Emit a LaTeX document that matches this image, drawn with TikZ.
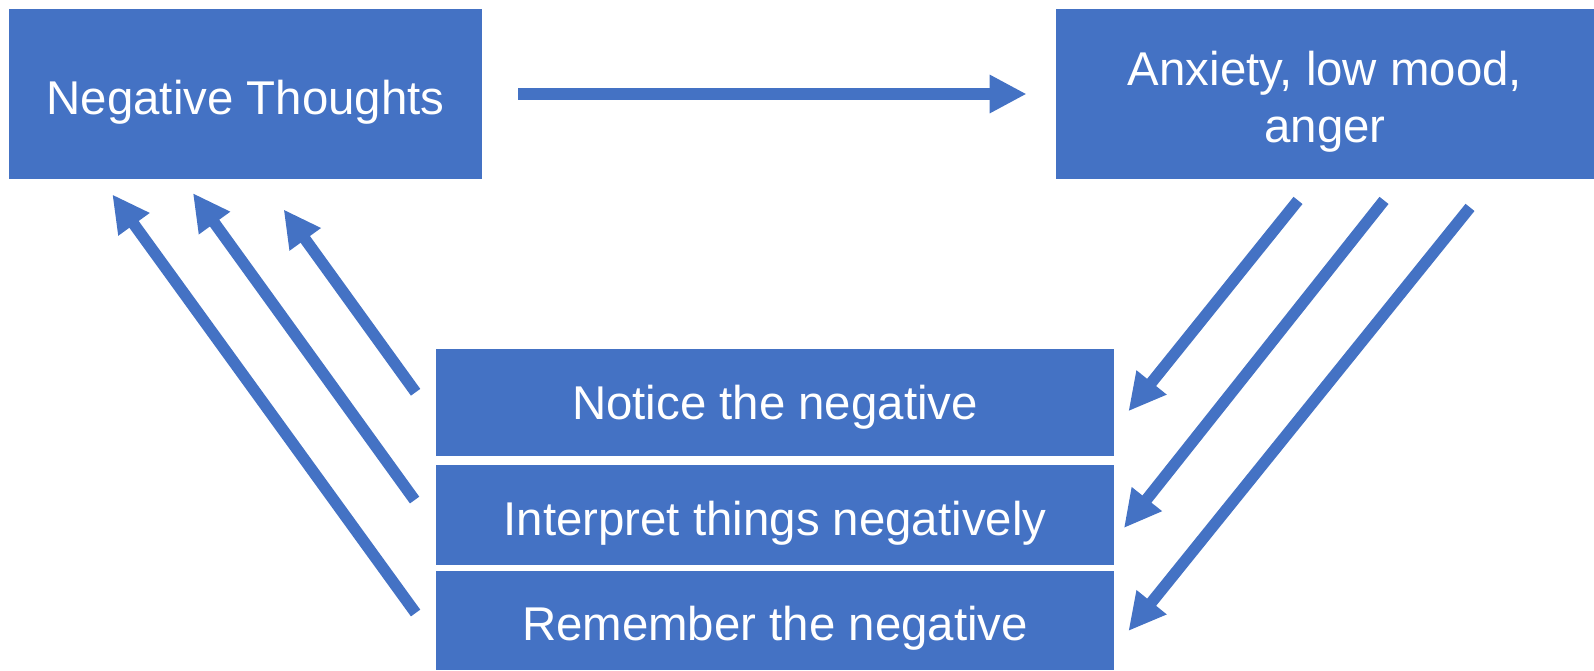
\documentclass[tikz,border=0pt]{standalone}
\usepackage{fontspec}
\setmainfont{Liberation Sans}
\usetikzlibrary{arrows.meta,calc}
\definecolor{officeblue}{RGB}{68,114,196}
\tikzset{
  box/.style={rectangle, fill=officeblue, draw=none, inner sep=0pt,
    text=white, align=center, text depth=0pt, text height=20.3pt,
    font=\fontsize{23.7}{28.5}\selectfont},
  flow/.style={draw=officeblue, line width=5.75pt,
    -{Triangle[length=18.5pt,width=18pt]}}
}
\begin{document}
\begin{tikzpicture}[x=0.5pt,y=-0.5pt]
\useasboundingbox (0,0) rectangle (1594,670);

% boxes
\node[box, minimum width=236.5pt, minimum height=85pt] (NT) at (245.5,94) {Negative Thoughts};
\node[box, text height=48.8pt, minimum width=269pt, minimum height=85pt] (AX) at (1325,94) {Anxiety, low mood,\\anger};
\node[box, text height=17.3pt, minimum width=339pt, minimum height=53.25pt] (B1) at (775,402.25) {Notice the negative};
\node[box, minimum width=339pt, minimum height=49.75pt] (B2) at (775,514.75) {Interpret things negatively};
\node[box, minimum width=339pt, minimum height=49.5pt] (B3) at (775,620.5) {Remember the negative};

% thoughts lead to feelings
\draw[flow] ($(NT.east)+(36,0)$) -- ($(AX.west)+(-29,0)$);

% feelings feed the three biases
\draw[flow] ($(AX.south)+(-27,21)$) -- ($(B1.east)+(14,9)$);
\draw[flow] ($(AX.south)+(59,21)$) -- ($(B2.east)+(9.5,13.3)$);
\draw[flow] ($(AX.south)+(145,28)$) -- ($(B3.east)+(14,10.5)$);

% biases reinforce the thoughts
\draw[flow] ($(B3.west)+(-20,-7.5)$) -- ($(NT.south west)+(103.7,15)$);
\draw[flow] ($(B2.west)+(-21,-14.7)$) -- ($(NT.south west)+(184.3,13.7)$);
\draw[flow] ($(B1.west)+(-20,-10)$) -- ($(NT.south west)+(275,30)$);
\end{tikzpicture}
\end{document}
